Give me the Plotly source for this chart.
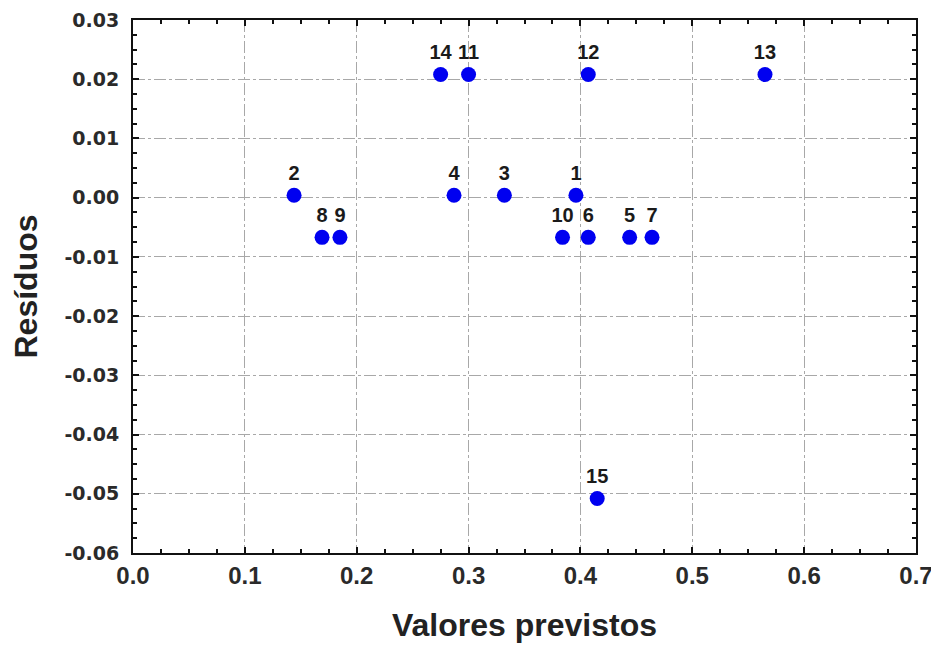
import plotly.graph_objects as go

labels = ["1", "2", "3", "4", "5", "6", "7", "8", "9", "10", "11", "12", "13", "14", "15"]
predicted = [0.396, 0.144, 0.332, 0.287, 0.444, 0.407, 0.464, 0.169, 0.185, 0.384, 0.300, 0.407, 0.565, 0.275, 0.415]
residuals = [0.0004, 0.0004, 0.0004, 0.0004, -0.0067, -0.0067, -0.0067, -0.0067, -0.0067, -0.0067,
             0.0208, 0.0208, 0.0208, 0.0208, -0.0508]

x_ticks = [0.0, 0.1, 0.2, 0.3, 0.4, 0.5, 0.6, 0.7]
y_ticks = [0.03, 0.02, 0.01, 0.00, -0.01, -0.02, -0.03, -0.04, -0.05, -0.06]

fig = go.Figure()
fig.add_trace(go.Scatter(
    x=predicted, y=residuals, mode="markers+text",
    text=labels, textposition="top center",
    textfont=dict(family="Liberation Sans, Arial", size=20, color="#1a1a1a", weight="bold"),
    marker=dict(color="#0000f0", size=15, line=dict(width=0)),
    cliponaxis=False, showlegend=False,
))

axis_common = dict(
    showline=True, linecolor="#111", linewidth=2, mirror="allticks",
    showgrid=True, gridcolor="#a8a8a8", gridwidth=1, griddash="12px,3px,3px,3px",
    zeroline=False, ticks="inside", ticklen=6, tickcolor="#111", tickwidth=2,
    automargin=False,
)

# page body has an 8px margin, so the figure is sized/offset to land the plot where the reference has it
fig.update_layout(
    template="none",
    width=931, height=638,
    margin=dict(l=125, r=23, t=12, b=93),
    paper_bgcolor="white", plot_bgcolor="white",
    xaxis=dict(
        range=[0, 0.7], tickvals=x_ticks, ticktext=[f"{v:.1f}" for v in x_ticks],
        tickfont=dict(family="Liberation Sans, Arial", size=24, color="#2a2a2a", weight="bold"),
        minor=dict(dtick=0.025, ticks="inside", ticklen=4, tickcolor="#111", tickwidth=2, showgrid=False),
        title=dict(text="Valores previstos", standoff=26,
                   font=dict(family="Liberation Sans, Arial", size=32, color="#222", weight="bold")),
        **axis_common,
    ),
    yaxis=dict(
        range=[-0.06, 0.03], tickvals=y_ticks, ticktext=[f"{v:.2f}" for v in y_ticks],
        tickfont=dict(family="DejaVu Sans", size=19, color="#2a2a2a", weight="bold"),
        minor=dict(dtick=0.0025, ticks="inside", ticklen=4, tickcolor="#111", tickwidth=2, showgrid=False),
        title=dict(text="Resíduos", standoff=20,
                   font=dict(family="Liberation Sans, Arial", size=32, color="#222", weight="bold")),
        ticklabelstandoff=8,
        **axis_common,
    ),
)

fig.write_html("out.html")
